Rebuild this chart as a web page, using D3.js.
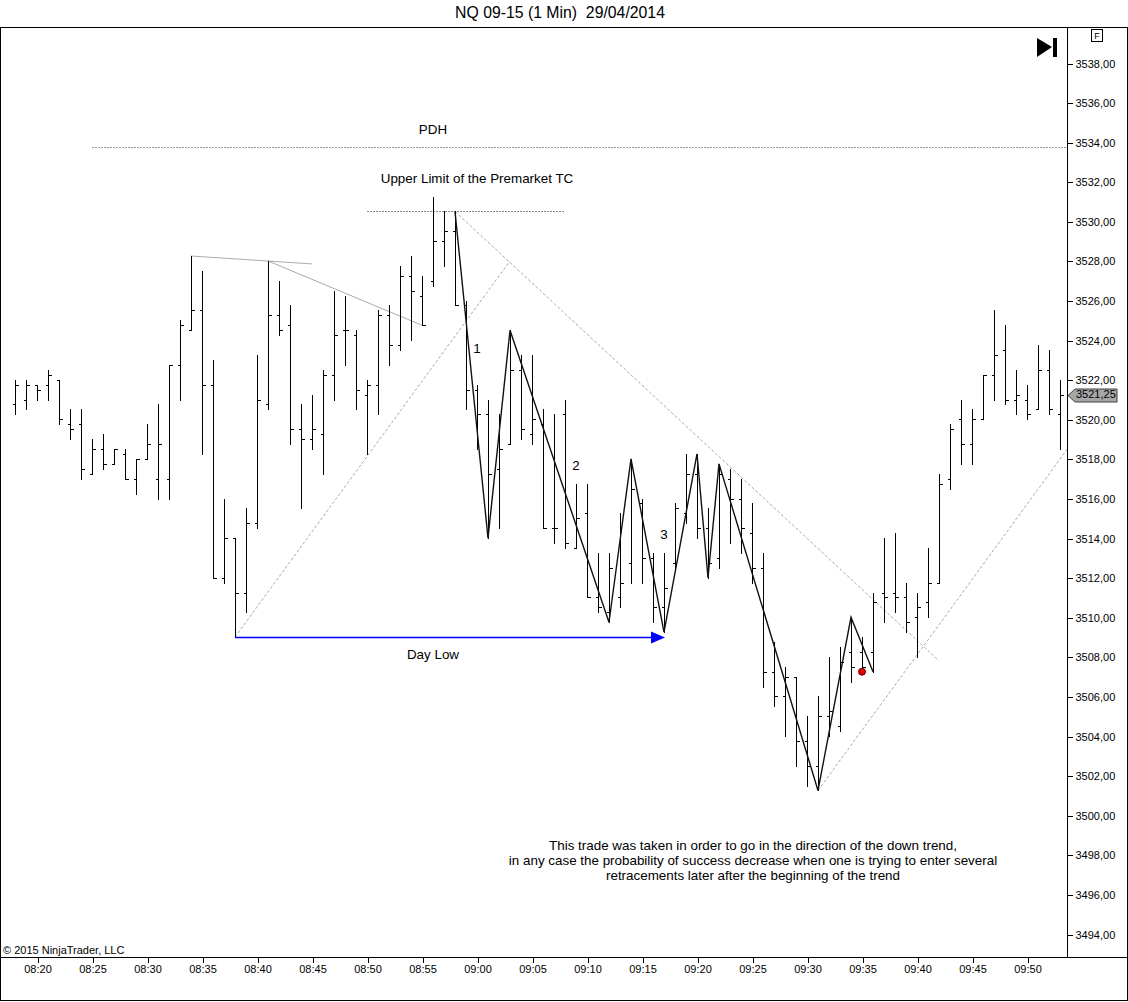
<!DOCTYPE html>
<html>
<head>
<meta charset="utf-8">
<script src="https://cdn.jsdelivr.net/npm/d3@7"></script>
<style>
  body { margin: 0; background: #fff; }
  svg { display: block; font-family: Arial, "Liberation Sans", sans-serif; }
  .axis text { font-size: 11px; fill: #000; }
  .axis line { stroke: #000; shape-rendering: crispEdges; }
  .axis .domain { display: none; }
  .bar line { stroke: #000; stroke-width: 1; shape-rendering: crispEdges; }
  .note { font-size: 13.4px; fill: #000; }
</style>
</head>
<body>
<svg id="chart" width="1128" height="1002"></svg>
<script>
// 1 minute bars, NQ 09-15, 29/04/2014
const times = [
  '08:18','08:19','08:20','08:21','08:22','08:23','08:24','08:25','08:26','08:27',
  '08:28','08:29','08:30','08:31','08:32','08:33','08:34','08:35','08:36','08:37',
  '08:38','08:39','08:40','08:41','08:42','08:43','08:44','08:45','08:46','08:47',
  '08:48','08:49','08:50','08:51','08:52','08:53','08:54','08:55','08:56','08:57',
  '08:58','08:59','09:00','09:01','09:02','09:03','09:04','09:05','09:06','09:07',
  '09:08','09:09','09:10','09:11','09:12','09:13','09:14','09:15','09:16','09:17',
  '09:18','09:19','09:20','09:21','09:22','09:23','09:24','09:25','09:26','09:27',
  '09:28','09:29','09:30','09:31','09:32','09:33','09:34','09:35','09:36','09:37',
  '09:38','09:39','09:40','09:41','09:42','09:43','09:44','09:45','09:46','09:47',
  '09:48','09:49','09:50','09:51','09:52','09:53'
];
const opens = [
  3520.75,3521.0,3521.75,3521.75,3522.0,3519.75,3519.75,3517.25,3518.5,3517.75,
  3518.25,3517.0,3518.0,3517.0,3517.0,3522.75,3524.5,3525.5,3521.75,3512.0,
  3514.0,3511.25,3514.75,3520.75,3525.25,3524.75,3519.5,3519.0,3519.25,3522.25,
  3524.5,3524.25,3521.25,3521.75,3525.25,3523.75,3527.25,3526.25,3527.0,3529.0,
  3529.5,3525.75,3521.5,3520.25,3517.5,3518.75,3522.5,3519.25,3519.75,3514.5,
  3520.25,3513.5,3515.25,3511.0,3510.25,3511.0,3512.75,3515.75,3513.0,3510.5,
  3512.75,3515.25,3517.25,3514.5,3513.0,3517.0,3516.0,3514.25,3512.5,3507.25,
  3506.0,3507.0,3503.75,3502.5,3505.0,3504.5,3508.25,3508.25,3508.25,3511.25,
  3511.25,3511.0,3510.0,3510.75,3511.75,3517.0,3520.0,3518.75,3520.0,3522.25,
  3523.5,3521.0,3521.0,3520.5,3522.5,3520.25
];
const highs = [
  3522.0,3522.0,3521.75,3522.5,3522.0,3520.5,3520.5,3519.0,3519.25,3518.5,
  3518.5,3518.0,3519.75,3520.75,3522.75,3525.0,3528.25,3527.5,3523.0,3516.0,
  3514.0,3515.5,3523.25,3528.0,3527.0,3525.75,3520.75,3521.25,3522.5,3526.5,
  3526.25,3524.5,3522.0,3525.5,3525.75,3527.75,3528.25,3527.25,3531.25,3530.5,
  3530.5,3526.0,3521.75,3521.0,3520.25,3524.5,3523.25,3523.25,3520.5,3520.25,
  3521.0,3516.75,3516.75,3513.25,3513.25,3515.25,3518.0,3516.0,3513.25,3513.25,
  3515.75,3518.25,3518.25,3515.5,3517.75,3517.5,3517.0,3515.75,3513.25,3508.75,
  3507.5,3507.0,3505.0,3506.0,3508.0,3508.5,3510.0,3509.0,3511.25,3514.0,
  3514.25,3511.75,3511.25,3513.5,3517.25,3519.75,3521.0,3520.5,3522.25,3525.5,
  3524.75,3522.5,3521.75,3523.75,3523.5,3522.0
];
const lows = [
  3520.25,3520.5,3521.0,3521.0,3519.75,3519.0,3517.0,3517.25,3517.5,3517.75,
  3517.0,3516.25,3518.0,3516.0,3516.0,3521.0,3524.5,3518.25,3512.0,3511.75,
  3509.0,3510.25,3514.5,3520.5,3524.25,3518.75,3515.5,3518.5,3517.25,3521.0,
  3522.75,3520.5,3518.25,3520.25,3522.75,3523.5,3524.0,3524.75,3526.75,3527.75,
  3525.75,3520.5,3518.5,3514.0,3514.5,3518.75,3519.0,3518.75,3514.5,3513.75,
  3513.5,3513.5,3511.0,3510.25,3509.75,3510.5,3511.75,3511.75,3509.75,3509.25,
  3512.5,3514.75,3514.0,3512.0,3512.5,3513.75,3513.25,3511.75,3506.5,3505.5,
  3504.0,3502.5,3501.5,3501.25,3504.0,3504.25,3506.75,3507.5,3507.25,3509.75,
  3510.25,3509.25,3508.0,3510.0,3511.75,3516.5,3517.75,3517.75,3520.0,3521.0,
  3520.75,3520.25,3520.0,3520.5,3520.25,3518.5
];
const closes = [
  3521.75,3521.75,3521.5,3522.25,3520.0,3519.5,3517.5,3518.5,3517.75,3518.5,
  3517.0,3518.0,3518.75,3518.75,3522.75,3524.75,3525.5,3521.75,3512.0,3514.0,
  3511.25,3514.75,3521.0,3525.25,3524.5,3519.5,3519.0,3519.5,3522.25,3524.25,
  3524.5,3521.5,3521.75,3525.25,3523.75,3527.25,3526.5,3524.75,3529.0,3529.5,
  3525.75,3521.5,3520.25,3517.25,3518.5,3522.5,3519.5,3520.0,3514.5,3514.5,
  3513.75,3515.0,3511.0,3510.5,3512.5,3511.75,3516.5,3513.0,3510.5,3511.5,
  3515.5,3517.25,3514.5,3512.75,3517.25,3516.0,3514.5,3512.5,3507.25,3506.0,
  3507.0,3503.75,3502.5,3505.0,3505.25,3507.75,3507.5,3507.5,3510.75,3511.0,
  3511.0,3509.75,3510.5,3511.75,3516.75,3519.5,3518.75,3520.0,3522.25,3523.25,
  3521.0,3521.25,3520.25,3522.5,3520.5,3521.25
];

// axis ticks
const xTickLabels = ['08:20','08:25','08:30','08:35','08:40','08:45','08:50','08:55','09:00',
  '09:05','09:10','09:15','09:20','09:25','09:30','09:35','09:40','09:45','09:50'];
const yTickValues = [3494,3496,3498,3500,3502,3504,3506,3508,3510,3512,3514,3516,
  3518,3520,3522,3524,3526,3528,3530,3532,3534,3536,3538];

// drawing objects: [time, price] pairs
const zigzagTimes = ['08:58','09:01','09:03','09:12','09:14','09:17','09:20','09:21','09:22','09:31','09:34','09:36'];
const zigzagPrices = [3530.5,3514.0,3524.5,3509.75,3518.0,3509.25,3518.25,3512.0,3517.75,3501.25,3510.0,3507.25];
const trendLines = [
  { from: ['08:34', 3528.25], to: ['08:45', 3527.85], dash: null },
  { from: ['08:41', 3528.0], to: ['08:55', 3524.75], dash: null },
  { from: ['08:38', 3509.0], to: ['09:03', 3528.0], dash: '3,2' },
  { from: ['08:58', 3530.5], to: ['09:42', 3507.8], dash: '3,2' },
  { from: ['09:31', 3501.25], to: ['09:54', 3518.75], dash: '3,2' }
];
const pdh = { from: '08:25', price: 3533.75 };
const premarketTC = { from: '08:50', to: '09:08', price: 3530.5 };
const dayLow = { from: '08:38', to: '09:17', price: 3509.0 };
const entryDot = { time: '09:35', price: 3507.25 };
const waveLabels = [
  { text: '1', time: '09:00', price: 3523.55 },
  { text: '2', time: '09:09', price: 3517.6 },
  { text: '3', time: '09:17', price: 3514.15 }
];
const noteLines = [
  'This trade was taken in order to go in the direction of the down trend,',
  'in any case the probability of success decrease when one is trying to enter several',
  'retracements later after the beginning of the trend'
];

const config = {
  plotLeft: 0, plotRight: 1067, plotTop: 27, plotBottom: 957,
  width: 1128, height: 1002
};

const toMin = s => { const [h, m] = s.split(':'); return +h * 60 + +m; };
const fmtTime = m => d3.format('02')(Math.floor(m / 60)) + ':' + d3.format('02')(m % 60);
const fmtPrice = v => d3.format('.2f')(v).replace('.', ',');

const svg = d3.select('#chart');

// scales: 11px per minute, ~19.8px per point
const xScale = d3.scaleLinear().domain([toMin('08:20'), toMin('09:50')]).range([37, 1027]);
const yScale = d3.scaleLinear().domain([3494, 3538]).range([934, 63]);

// title
svg.append('text')
    .attr('x', 560).attr('y', 18)
    .attr('text-anchor', 'middle')
    .style('font-size', '15.8px')
    .style('white-space', 'pre')
    .text('NQ 09-15 (1 Min)  29/04/2014');

// frame
svg.append('rect')
    .attr('x', 0.5).attr('y', config.plotTop + 0.5)
    .attr('width', config.width - 1.5).attr('height', 1000 - config.plotTop)
    .attr('fill', 'none').attr('stroke', '#000')
    .style('shape-rendering', 'crispEdges');
svg.append('line')
    .attr('x1', config.plotRight + 0.5).attr('x2', config.plotRight + 0.5)
    .attr('y1', config.plotTop).attr('y2', config.plotBottom)
    .attr('stroke', '#000').style('shape-rendering', 'crispEdges');
svg.append('line')
    .attr('x1', 0).attr('x2', config.width - 1)
    .attr('y1', config.plotBottom + 0.5).attr('y2', config.plotBottom + 0.5)
    .attr('stroke', '#000').style('shape-rendering', 'crispEdges');

// axes
svg.append('g')
    .attr('class', 'axis x-axis')
    .attr('transform', `translate(0.5,${config.plotBottom + 0.5})`)
    .call(d3.axisBottom(xScale)
        .tickValues(xTickLabels.map(toMin))
        .tickFormat(fmtTime)
        .tickSize(5).tickPadding(3));

svg.append('g')
    .attr('class', 'axis y-axis')
    .attr('transform', `translate(${config.plotRight + 0.5},0.5)`)
    .call(d3.axisRight(yScale)
        .tickValues(yTickValues)
        .tickFormat(fmtPrice)
        .tickSize(5).tickPadding(3));

// clip for drawing objects
svg.append('clipPath').attr('id', 'plot-clip')
  .append('rect')
    .attr('x', config.plotLeft + 1).attr('y', config.plotTop + 1)
    .attr('width', config.plotRight - config.plotLeft - 1)
    .attr('height', config.plotBottom - config.plotTop - 1);

const plot = svg.append('g').attr('clip-path', 'url(#plot-clip)');

// horizontal levels
plot.append('line')
    .attr('x1', xScale(toMin(pdh.from))).attr('x2', config.plotRight)
    .attr('y1', Math.round(yScale(pdh.price)) + 0.5).attr('y2', Math.round(yScale(pdh.price)) + 0.5)
    .attr('stroke', '#999').attr('stroke-dasharray', '2,1');
plot.append('line')
    .attr('x1', xScale(toMin(premarketTC.from))).attr('x2', xScale(toMin(premarketTC.to)))
    .attr('y1', Math.round(yScale(premarketTC.price)) + 0.5).attr('y2', Math.round(yScale(premarketTC.price)) + 0.5)
    .attr('stroke', '#888').attr('stroke-dasharray', '2,1');

// trend lines
plot.selectAll('.trend')
    .data(trendLines)
  .enter().append('line')
    .attr('class', 'trend')
    .attr('x1', d => xScale(toMin(d.from[0])))
    .attr('y1', d => yScale(d.from[1]))
    .attr('x2', d => xScale(toMin(d.to[0])))
    .attr('y2', d => yScale(d.to[1]))
    .attr('stroke', '#aaa')
    .attr('stroke-width', 1)
    .attr('stroke-dasharray', d => d.dash);

// OHLC bars
const bars = times.map((t, i) => ({
  x: Math.round(xScale(toMin(t))) + 0.5,
  o: Math.round(yScale(opens[i])) + 0.5,
  h: Math.round(yScale(highs[i])),
  l: Math.round(yScale(lows[i])) + 1,
  c: Math.round(yScale(closes[i])) + 0.5
}));

const barG = plot.selectAll('.bar')
    .data(bars)
  .enter().append('g')
    .attr('class', 'bar');

barG.append('line')
    .attr('x1', d => d.x).attr('x2', d => d.x)
    .attr('y1', d => d.h).attr('y2', d => d.l);
barG.append('line')
    .attr('x1', d => d.x - 3).attr('x2', d => d.x)
    .attr('y1', d => d.o).attr('y2', d => d.o);
barG.append('line')
    .attr('x1', d => d.x).attr('x2', d => d.x + 3)
    .attr('y1', d => d.c).attr('y2', d => d.c);

// zigzag
plot.append('path')
    .datum(zigzagTimes.map((t, i) => [xScale(toMin(t)), yScale(zigzagPrices[i])]))
    .attr('d', d3.line())
    .attr('fill', 'none')
    .attr('stroke', '#111')
    .attr('stroke-width', 1.4);

// day low arrow
const dlY = Math.round(yScale(dayLow.price)) + 0.5;
const dlX1 = xScale(toMin(dayLow.from));
const dlX2 = xScale(toMin(dayLow.to)) + 1;
plot.append('line')
    .attr('x1', dlX1).attr('x2', dlX2 - 12)
    .attr('y1', dlY).attr('y2', dlY)
    .attr('stroke', '#0000ff').attr('stroke-width', 1.5);
plot.append('path')
    .attr('d', `M${dlX2},${dlY} L${dlX2 - 14},${dlY - 6} L${dlX2 - 14},${dlY + 6} Z`)
    .attr('fill', '#0000ff');

// entry dot
plot.append('circle')
    .attr('cx', xScale(toMin(entryDot.time)))
    .attr('cy', yScale(entryDot.price))
    .attr('r', 3.5)
    .attr('fill', '#e00000')
    .attr('stroke', '#600');

// text annotations
svg.append('text').attr('class', 'note')
    .attr('x', xScale(toMin('08:56'))).attr('y', yScale(3534.6))
    .attr('text-anchor', 'middle').attr('dominant-baseline', 'middle')
    .text('PDH');
svg.append('text').attr('class', 'note')
    .attr('x', xScale(toMin('09:00'))).attr('y', yScale(3532.14))
    .attr('text-anchor', 'middle').attr('dominant-baseline', 'middle')
    .text('Upper Limit of the Premarket TC');
svg.append('text').attr('class', 'note')
    .attr('x', xScale(toMin('08:56'))).attr('y', yScale(3508.09))
    .attr('text-anchor', 'middle').attr('dominant-baseline', 'middle')
    .text('Day Low');

svg.selectAll('.wave-label')
    .data(waveLabels)
  .enter().append('text')
    .attr('class', 'note wave-label')
    .attr('x', d => xScale(toMin(d.time)))
    .attr('y', d => yScale(d.price))
    .attr('text-anchor', 'middle').attr('dominant-baseline', 'middle')
    .text(d => d.text);

svg.selectAll('.note-line')
    .data(noteLines)
  .enter().append('text')
    .attr('class', 'note note-line')
    .attr('x', 753)
    .attr('y', (d, i) => 846 + i * 15)
    .attr('text-anchor', 'middle').attr('dominant-baseline', 'middle')
    .text(d => d);

// copyright
svg.append('text')
    .attr('x', 3).attr('y', 954)
    .style('font-size', '11px')
    .text('\u00A9 2015 NinjaTrader, LLC');

// last price marker
const lastY = Math.round(yScale(closes[closes.length - 1])) + 0.5;
const mx = config.plotRight + 1;
svg.append('path')
    .attr('d', `M${mx},${lastY} L${mx + 7},${lastY - 6.5} L${mx + 49},${lastY - 6.5} L${mx + 49},${lastY + 6.5} L${mx + 7},${lastY + 6.5} Z`)
    .attr('fill', '#a6a6a6')
    .attr('stroke', '#404040');
svg.append('text')
    .attr('x', mx + 8).attr('y', lastY)
    .attr('dominant-baseline', 'middle')
    .style('font-size', '11px')
    .text(fmtPrice(closes[closes.length - 1]));

// top-right controls
svg.append('rect')
    .attr('x', 1091.5).attr('y', 29.5).attr('width', 11).attr('height', 12)
    .attr('fill', '#fff').attr('stroke', '#000');
svg.append('text')
    .attr('x', 1097).attr('y', 39)
    .attr('text-anchor', 'middle')
    .style('font-size', '9px')
    .text('F');
svg.append('path')
    .attr('d', 'M1037,38 L1052,47 L1037,57 Z')
    .attr('fill', '#000');
svg.append('rect')
    .attr('x', 1053).attr('y', 38).attr('width', 4).attr('height', 19)
    .attr('fill', '#000');
</script>
</body>
</html>
